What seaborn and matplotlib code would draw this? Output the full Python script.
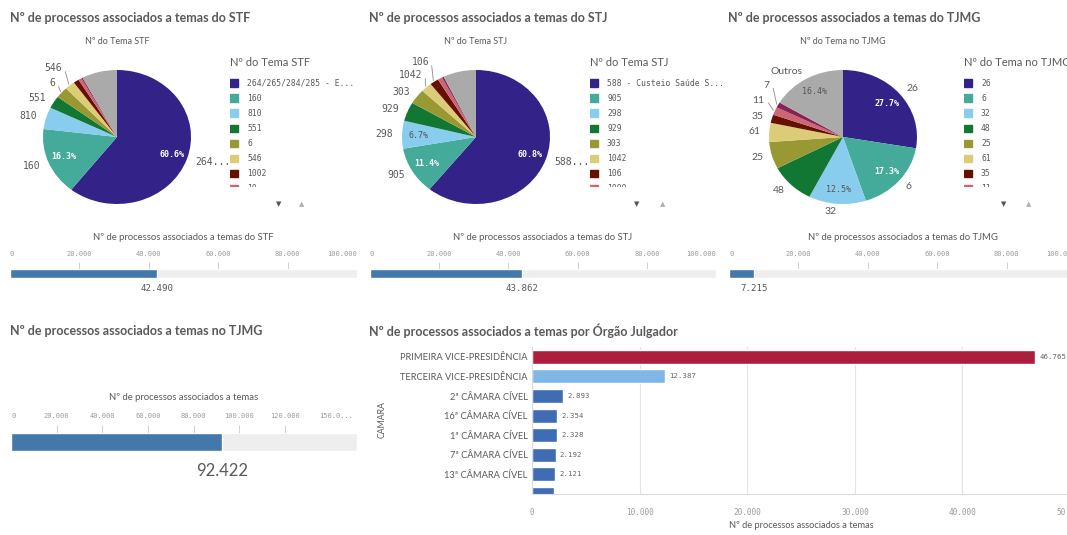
import numpy as np
import pandas as pd
import matplotlib
matplotlib.use("Agg")
import matplotlib.pyplot as plt
from matplotlib.patches import Rectangle
import seaborn as sns

sns.set_theme(style="white")
plt.rcParams['font.family'] = ['Lato', 'DejaVu Sans']

# ---- data ----
stf_labels = ["264/265/284/285 - E...", "160", "810", "551", "6", "546", "1002", "10", None, "Outros"]
stf_pct = [60.6, 16.3, 5.3, 3.0, 2.7, 2.2, 1.2, 0.7, 0.3, 7.7]

stj_labels = ["588 - Custeio Saúde S...", "905", "298", "929", "303", "1042", "106", "1000", None, "Outros"]
stj_pct = [60.8, 11.4, 6.7, 4.6, 3.6, 2.4, 1.9, 1.0, 0.4, 7.2]

tjmg_labels = ["26", "6", "32", "48", "25", "61", "35", "11", "7", "Outros"]
tjmg_pct = [27.7, 17.3, 12.5, 9.8, 6.5, 4.6, 2.0, 1.9, 1.3, 16.4]

stf_total = 42490
stj_total = 43862
tjmg_temas_total = 7215
tjmg_total = 92422

orgao = ["PRIMEIRA VICE-PRESIDÊNCIA", "TERCEIRA VICE-PRESIDÊNCIA", "2ª CÂMARA CÍVEL",
         "16ª CÂMARA CÍVEL", "1ª CÂMARA CÍVEL", "7ª CÂMARA CÍVEL", "13ª CÂMARA CÍVEL", "OUTRA"]
orgao_vals = [46765, 12387, 2893, 2354, 2328, 2192, 2121, 2087]

pie_colors = ['#332288', '#44aa99', '#88ccee', '#117733', '#999933',
              '#ddcc77', '#661100', '#cc6677', '#882255', '#aaaaaa']
bar_colors = ['#ad1d3e', '#7fb8e6'] + ['#3f6cb3'] * 6
TXT = '#595959'
MONO = 'DejaVu Sans Mono'

W, H = 1067, 535
fig = plt.figure(figsize=(W / 100, H / 100), dpi=100)


def px(x0, y0, x1, y1):
    return [x0 / W, 1 - y1 / H, (x1 - x0) / W, (y1 - y0) / H]


def ftext(x, y, s, **kw):
    kw.setdefault('va', 'center')
    kw.setdefault('color', TXT)
    return fig.text(x / W, 1 - y / H, s, **kw)


def fmt(v):
    return f"{v:,.0f}".replace(",", ".")


def pie_panel(cx, cy, pct, labels, n_outer, pct_idx, pushed, lfont, lsize):
    rx, ry = 74, 67
    ax = fig.add_axes(px(cx - 1.25 * rx, cy - 1.25 * ry, cx + 1.25 * rx, cy + 1.25 * ry))
    wedges, _ = ax.pie(pct, colors=pie_colors, startangle=90, counterclock=False,
                       wedgeprops=dict(linewidth=0))
    ax.set_aspect('auto')
    ax.set_xlim(-1.25, 1.25)
    ax.set_ylim(-1.25, 1.25)
    for i, w in enumerate(wedges):
        mid = (w.theta1 + w.theta2) / 2
        if i < n_outer:
            lab = labels[i]
            if len(lab) > 8:
                lab = lab[:3] + "..."
            r, ang = 1.12, mid
            if i in pushed:
                r, dth = pushed[i]
                ang = mid + dth
                a0, a1 = np.deg2rad(mid), np.deg2rad(ang)
                ax.plot([1.02 * np.cos(a0), (r - 0.07) * np.cos(a1)],
                        [1.02 * np.sin(a0), (r - 0.07) * np.sin(a1)],
                        color='#8c8c8c', lw=0.6)
            a = np.deg2rad(ang)
            ha = 'left' if np.cos(a) > 0 else 'right'
            ax.text(r * np.cos(a), r * np.sin(a), lab, ha=ha, va='center',
                    family=lfont, fontsize=lsize, color=TXT)
        if i in pct_idx:
            a = np.deg2rad(mid)
            c = pie_colors[i]
            light = c in ('#88ccee', '#aaaaaa', '#ddcc77')
            ax.text(0.78 * np.cos(a), 0.78 * np.sin(a), f"{pct[i]:.1f}%",
                    ha='center', va='center', family=MONO, fontsize=6,
                    color='#555555' if light else 'white',
                    weight='normal' if light else 'bold')
    return ax


def legend_panel(lx, labels):
    lax = fig.add_axes(px(lx, 74, lx + 160, 187))
    lax.set_xlim(0, 160)
    lax.set_ylim(113, 0)
    lax.axis('off')
    k = 0
    for lab, col in zip(labels, pie_colors):
        if lab is None or lab == "Outros":
            continue
        yc = 83 - 74 + k * 15.07
        lax.add_patch(Rectangle((0, yc - 3.7), 7.5, 7.4, color=col, clip_on=True))
        lax.text(17, yc, lab, va='center', ha='left', family=MONO, fontsize=5.8,
                 color=TXT, clip_on=True)
        k += 1


def gauge(x0, x1, y0, y1, value, xmax, ticks, length, pad, last_trunc=False):
    ax = fig.add_axes(px(x0, y0, x1, y1))
    ax.barh([0], [xmax], height=1, color='#eeeeee')
    ax.barh([0], [value], height=1, color='#4477aa')
    ax.set_xlim(0, xmax)
    ax.set_ylim(-0.5, 0.5)
    for s in ax.spines.values():
        s.set_visible(False)
    ax.set_yticks([])
    ax.xaxis.set_ticks_position('top')
    ax.set_xticks(ticks)
    labs = [fmt(t) for t in ticks]
    if last_trunc:
        labs[-1] = labs[-1][:5] + "..."
    ax.set_xticklabels(labs, family=MONO, fontsize=5.0, color='#9a9a9a')
    ax.tick_params(axis='x', direction='out', length=length, width=0.7,
                   color='#d0d0d0', pad=pad)
    tl = ax.get_xticklabels()
    tl[0].set_ha('left')
    tl[-1].set_ha('right')
    mt = ax.xaxis.get_major_ticks()
    for t in (mt[0], mt[-1]):
        t.tick1line.set_visible(False)
        t.tick2line.set_visible(False)
    return ax


# ---- titles ----
for x, y, s in [(10, 18, "Nº de processos associados a temas do STF"),
                (369, 18, "Nº de processos associados a temas do STJ"),
                (728, 18, "Nº de processos associados a temas do TJMG"),
                (10, 331, "Nº de processos associados a temas no TJMG"),
                (369, 331, "Nº de processos associados a temas por Órgão Julgador")]:
    ftext(x, y, s, fontsize=9, weight='bold', ha='left')

# ---- pies ----
pie_panel(117, 137, stf_pct, stf_labels, 6, [0, 1], {4: (1.16, -2), 5: (1.27, -4)}, MONO, 7)
pie_panel(476, 137, stj_pct, stj_labels, 7, [0, 1, 2], {5: (1.18, -4), 6: (1.29, -5)}, MONO, 7)
pie_panel(843, 137, tjmg_pct, tjmg_labels, 10, [0, 1, 2, 9], {7: (1.2, -4), 8: (1.26, -9)}, 'Lato', 7.5)

for cx, s in [(117, "Nº do Tema STF"), (476, "Nº do Tema STJ"), (843, "Nº do Tema no TJMG")]:
    ftext(cx, 42, s, fontsize=6.5, ha='center')

for lx, s, labs in [(230, "Nº do Tema STF", stf_labels),
                    (590, "Nº do Tema STJ", stj_labels),
                    (964, "Nº do Tema no TJMG", tjmg_labels)]:
    ftext(lx, 63, s, fontsize=8, ha='left')
    legend_panel(lx, labs)

for xd, xu in [(279, 302), (637, 663), (1004, 1029)]:
    ftext(xd, 204, "▼", family='DejaVu Sans', fontsize=5, ha='center', color='#555555')
    ftext(xu, 204, "▲", family='DejaVu Sans', fontsize=5, ha='center', color='#b0b0b0')

# ---- gauges ----
top_ticks = [0, 20000, 40000, 60000, 80000, 100000]
for x0, x1, val, cap in [(10, 357, stf_total, "Nº de processos associados a temas do STF"),
                         (370, 716, stj_total, "Nº de processos associados a temas do STJ"),
                         (729, 1076, tjmg_temas_total, "Nº de processos associados a temas do TJMG")]:
    g = gauge(x0, x1, 269, 278, val, 100000, top_ticks, 5, 3.4)
    ftext((x0 + x1) / 2, 237, cap, fontsize=6.8, ha='center')
    g.annotate(fmt(val), (val, -0.5), xytext=(0, -4), textcoords='offset points',
               ha='center', va='top', family=MONO, fontsize=6.6, color=TXT)

g = gauge(11, 357, 433, 451, tjmg_total, 151600,
          [0, 20000, 40000, 60000, 80000, 100000, 120000, 150000], 5.5, 4.5, last_trunc=True)
ftext(184, 398, "Nº de processos associados a temas", fontsize=6.8, ha='center')
g.annotate(fmt(tjmg_total), (tjmg_total, -0.5), xytext=(0, -9), textcoords='offset points',
           ha='center', va='top', fontsize=12, color=TXT)

# ---- bar chart by órgão julgador ----
ax = fig.add_axes(px(532, 347, 1070, 494))
df = pd.DataFrame({'orgao': orgao, 'n': orgao_vals})
sns.barplot(data=df, y='orgao', x='n', hue='orgao', palette=bar_colors, legend=False,
            orient='h', width=0.72, saturation=1, ax=ax)
ax.set_ylim(7.0, -0.5)
ax.set_xlim(0, 50000)
ax.set_xticks([0, 10000, 20000, 30000, 40000, 50000])
ax.set_xticklabels([fmt(t) for t in ax.get_xticks()], family=MONO, fontsize=5.6, color='#9a9a9a')
vis = [i for i in range(len(orgao)) if i < 7]
ax.set_yticks(vis)
ax.set_yticklabels([orgao[i] for i in vis], fontsize=6.7, color=TXT)
ax.tick_params(axis='both', length=0)
ax.tick_params(axis='x', pad=10)
ax.tick_params(axis='y', pad=3)
ax.xaxis.grid(True, color='#e3e3e3', lw=0.8)
ax.set_axisbelow(True)
for s in ['top', 'right']:
    ax.spines[s].set_visible(False)
for s in ['left', 'bottom']:
    ax.spines[s].set_color('#dcdcdc')
    ax.spines[s].set_linewidth(0.8)
ax.set_ylabel("")
ax.set_xlabel("Nº de processos associados a temas", fontsize=6.7, color=TXT, labelpad=3)
for i in vis:
    ax.annotate(fmt(orgao_vals[i]), (orgao_vals[i], i), xytext=(3, 0), textcoords='offset points',
                ha='left', va='center', family=MONO, fontsize=5.3, color='#666666')
ftext(382, 420, "CAMARA", fontsize=6.3, rotation=90, ha='center')

fig.savefig("out.png", dpi=100)
